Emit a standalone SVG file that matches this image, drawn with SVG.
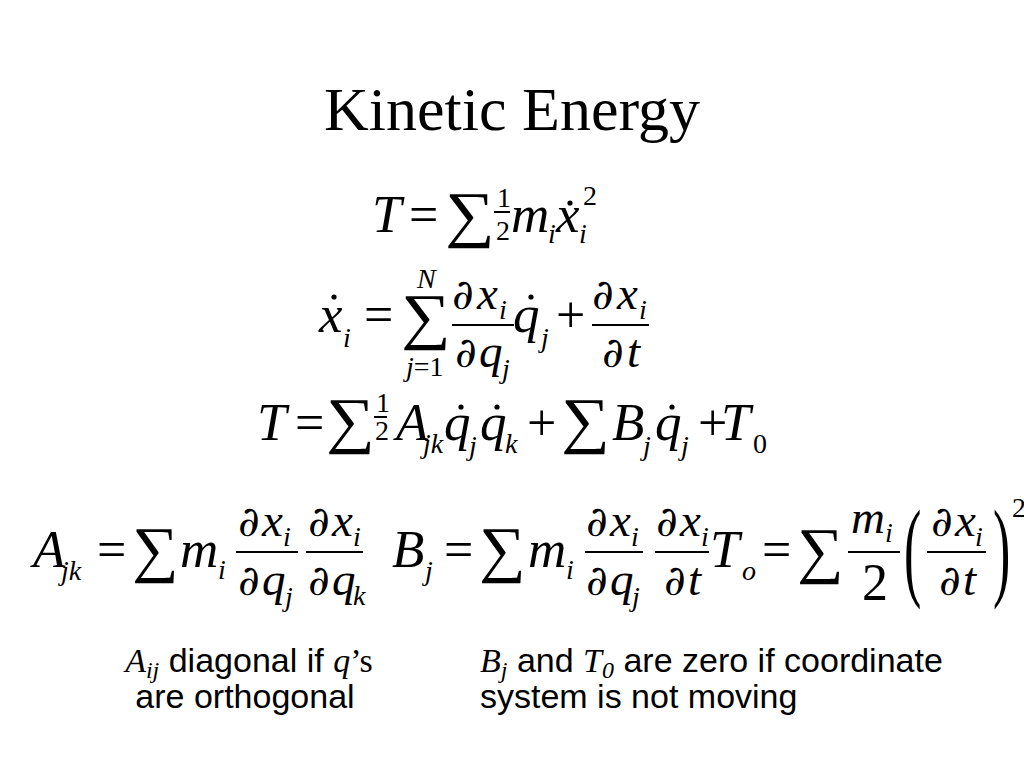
<svg xmlns="http://www.w3.org/2000/svg" width="1024" height="768" viewBox="0 0 1024 768">
<style>
text{fill:#000}
.t{font-family:"Liberation Serif",serif;font-size:62px}
.v{font-family:"Liberation Serif",serif;font-style:italic;font-size:53px}
.r{font-family:"Liberation Serif",serif;font-size:52px}
.s{font-family:"Liberation Serif",serif;font-style:italic;font-size:28px}
.sr{font-family:"Liberation Serif",serif;font-size:28px}
.sm{font-family:"Liberation Serif",serif;font-size:62px}
.f{font-family:"Liberation Serif",serif;font-style:italic;font-size:47px}
.d{font-family:"DejaVu Serif",serif;font-style:italic;font-size:42px}
.n{font-family:"Liberation Sans",sans-serif;font-size:34px}
.ni{font-family:"Liberation Serif",serif;font-style:italic}
line{stroke:#000;stroke-width:2}
circle{fill:#000}
</style>
<rect width="1024" height="768" fill="#fff"/>
<g id="title"><text class="t" x="512" y="130" text-anchor="middle">Kinetic Energy</text></g>

<g id="eq1">
<text class="v" x="372" y="232">T</text>
<text class="r" x="409" y="232">=</text>
<text class="sm" transform="translate(445,235) scale(1.12,1)" font-size="58">∑</text>
<text class="sr" x="497" y="207" font-size="24">1</text>
<line x1="494" y1="212" x2="510" y2="212" stroke-width="1.5"/>
<text class="sr" x="496" y="240" font-size="24">2</text>
<text class="v" x="511" y="232">m</text>
<text class="s" x="548" y="243">i</text>
<text class="v" x="556" y="232">x</text>
<circle cx="570" cy="203" r="2.6"/>
<text class="s" x="579" y="243">i</text>
<text class="sr" x="583" y="205">2</text>
</g>

<g id="eq2">
<text class="v" x="319" y="332">x</text>
<circle cx="334" cy="297" r="2.6"/>
<text class="s" x="343" y="347">i</text>
<text class="r" x="364" y="332">=</text>
<text class="sm" transform="translate(401,337) scale(1.12,1)">∑</text>
<text class="s" x="417" y="288" font-size="24">N</text>
<text class="sr" x="406" y="376" font-size="24"><tspan font-style="italic">j</tspan>=1</text>
<text class="d" x="452" y="309">∂</text>
<text class="f" x="477" y="309">x</text>
<text class="s" x="499" y="319" font-size="26">i</text>
<line x1="452" y1="325" x2="514" y2="325"/>
<text class="d" x="455" y="367">∂</text>
<text class="f" x="479" y="367">q</text>
<text class="s" x="502" y="378" font-size="26">j</text>
<text class="v" x="513" y="332">q</text>
<circle cx="531" cy="297" r="2.6"/>
<text class="s" x="541" y="347">j</text>
<text class="r" x="556" y="332">+</text>
<text class="d" x="592" y="309">∂</text>
<text class="f" x="617" y="309">x</text>
<text class="s" x="639" y="319" font-size="26">i</text>
<line x1="592" y1="325" x2="649" y2="325"/>
<text class="d" x="602" y="367">∂</text>
<text class="f" x="627" y="367">t</text>
</g>

<g id="eq3">
<text class="v" x="257" y="440">T</text>
<text class="r" x="295" y="440">=</text>
<text class="sm" transform="translate(326,441) scale(1.1,1)" font-size="64">∑</text>
<text class="sr" x="376" y="412" font-size="22">1</text>
<line x1="374" y1="417" x2="387" y2="417" stroke-width="1.5"/>
<text class="sr" x="375" y="440" font-size="22">2</text>
<text class="v" x="396" y="440">A</text>
<text class="s" x="423" y="453">jk</text>
<text class="v" x="444" y="440">q</text>
<circle cx="461" cy="407" r="2.6"/>
<text class="s" x="469" y="455">j</text>
<text class="v" x="480" y="440">q</text>
<circle cx="497" cy="407" r="2.6"/>
<text class="s" x="505" y="453">k</text>
<text class="r" x="527" y="440">+</text>
<text class="sm" transform="translate(561,441) scale(1.1,1)" font-size="64">∑</text>
<text class="v" x="612" y="440">B</text>
<text class="s" x="643" y="455">j</text>
<text class="v" x="655" y="440">q</text>
<circle cx="672" cy="407" r="2.6"/>
<text class="s" x="681" y="455">j</text>
<text class="r" x="698" y="440">+</text>
<text class="v" x="721" y="440">T</text>
<text class="sr" x="753" y="453">0</text>
</g>

<g id="eq4">
<text class="v" x="33" y="567">A</text>
<text class="s" x="61" y="580">jk</text>
<text class="r" x="97" y="567">=</text>
<text class="sm" transform="translate(132,570) scale(1.05,1)" font-size="66">∑</text>
<text class="v" x="180" y="567">m</text>
<text class="s" x="218" y="579">i</text>
<text class="d" x="238" y="536">∂</text>
<text class="f" x="262" y="536">x</text>
<text class="s" x="283" y="546" font-size="26">i</text>
<line x1="236" y1="552" x2="298" y2="552"/>
<text class="d" x="238" y="595">∂</text>
<text class="f" x="262" y="595">q</text>
<text class="s" x="285" y="606" font-size="26">j</text>
<text class="d" x="308" y="536">∂</text>
<text class="f" x="332" y="536">x</text>
<text class="s" x="353" y="546" font-size="26">i</text>
<line x1="306" y1="552" x2="363" y2="552"/>
<text class="d" x="308" y="595">∂</text>
<text class="f" x="332" y="595">q</text>
<text class="s" x="353" y="605" font-size="26">k</text>
</g>

<g id="eq5">
<text class="v" x="392" y="567">B</text>
<text class="s" x="425" y="580">j</text>
<text class="r" x="444" y="567">=</text>
<text class="sm" transform="translate(479,570) scale(1.05,1)" font-size="66">∑</text>
<text class="v" x="528" y="567">m</text>
<text class="s" x="566" y="579">i</text>
<text class="d" x="586" y="536">∂</text>
<text class="f" x="610" y="536">x</text>
<text class="s" x="631" y="546" font-size="26">i</text>
<line x1="585" y1="552" x2="643" y2="552"/>
<text class="d" x="586" y="595">∂</text>
<text class="f" x="610" y="595">q</text>
<text class="s" x="632" y="606" font-size="26">j</text>
<text class="d" x="656" y="536">∂</text>
<text class="f" x="680" y="536">x</text>
<text class="s" x="701" y="546" font-size="26">i</text>
<line x1="655" y1="552" x2="709" y2="552"/>
<text class="d" x="664" y="595">∂</text>
<text class="f" x="688" y="595">t</text>
</g>

<g id="eq6">
<text class="v" x="710" y="567">T</text>
<text class="s" x="742" y="580">o</text>
<text class="r" x="762" y="567">=</text>
<text class="sm" transform="translate(797,571) scale(1.05,1)" font-size="66">∑</text>
<text class="f" x="851" y="533">m</text>
<text class="s" x="885" y="542" font-size="26">i</text>
<line x1="848" y1="552" x2="900" y2="552"/>
<text class="r" x="862" y="600" font-size="48">2</text>
<text class="r" transform="translate(904,586) scale(1,2.1)" font-size="60">(</text>
<text class="d" x="931" y="536">∂</text>
<text class="f" x="955" y="536">x</text>
<text class="s" x="975" y="546" font-size="26">i</text>
<line x1="927" y1="552" x2="986" y2="552"/>
<text class="d" x="939" y="595">∂</text>
<text class="f" x="963" y="595">t</text>
<text class="r" transform="translate(993,586) scale(1,2.1)" font-size="60">)</text>
<text class="sr" x="1012" y="517">2</text>
</g>

<g id="note-left">
<text class="n" x="249" y="672" text-anchor="middle"><tspan class="ni">A</tspan><tspan class="ni" font-size="24" dy="6">ij</tspan><tspan dy="-6"> diagonal if </tspan><tspan class="ni">q</tspan><tspan font-family="Liberation Serif, serif">’s</tspan></text>
<text class="n" x="245" y="708" text-anchor="middle">are orthogonal</text>
</g>

<g id="note-right">
<text class="n" x="480" y="672"><tspan class="ni">B</tspan><tspan class="ni" font-size="24" dy="6">j</tspan><tspan dy="-6"> and </tspan><tspan class="ni">T</tspan><tspan class="ni" font-size="24" dy="6">0</tspan><tspan dy="-6"> are zero if coordinate</tspan></text>
<text class="n" x="480" y="708">system is not moving</text>
</g>
</svg>
